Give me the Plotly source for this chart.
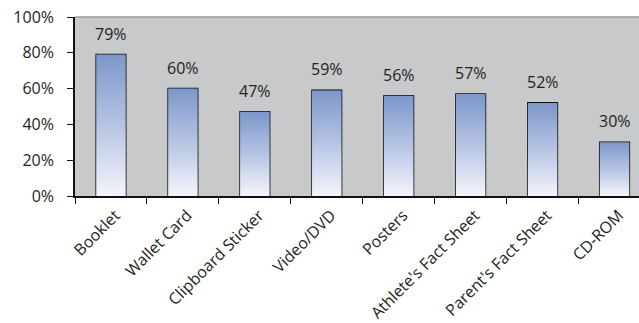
import plotly.graph_objects as go

# Survey results: share of respondents per resource
categories = ["Booklet", "Wallet Card", "Clipboard Sticker", "Video/DVD",
              "Posters", "Athlete's Fact Sheet", "Parent's Fact Sheet", "CD-ROM"]
values = [79, 60, 47, 59, 56, 57, 52, 30]
y_ticks = [0, 20, 40, 60, 80, 100]

FONT = "Open Sans"
TEXT = "#231f20"
BAR_W = 0.41
positions = list(range(len(categories)))
x_range = [-0.5, 7.34]
# rotated category labels sit slightly right of the bar centre
label_shift = 0.06

fig = go.Figure()

# gradient-filled bar bodies (white at the base, blue at the top)
for i, v in zip(positions, values):
    fig.add_trace(go.Scatter(
        x=[i - BAR_W / 2, i - BAR_W / 2, i + BAR_W / 2, i + BAR_W / 2, i - BAR_W / 2],
        y=[0, v, v, 0, 0],
        mode="lines", fill="toself",
        line=dict(color="rgba(0,0,0,0)", width=0),
        fillgradient=dict(type="vertical",
                          colorscale=[[0, "#f4f5fb"], [0.5, "#b6c4e3"], [1, "#7c97ca"]]),
        hoverinfo="skip", showlegend=False,
    ))

# bar outlines
fig.add_trace(go.Bar(
    x=positions, y=values, width=BAR_W,
    marker=dict(color="rgba(0,0,0,0)", line=dict(color="#111111", width=1.6)),
    showlegend=False,
))

# category labels on an overlaid axis so tick marks can sit on the boundaries
fig.add_trace(go.Scatter(x=positions, y=[None] * len(positions), xaxis="x2",
                         mode="markers", showlegend=False, hoverinfo="skip"))

# value labels floating above each bar
annotations = [
    dict(x=i, y=v, xref="x", yref="y", text=f"{v}%", showarrow=False,
         yanchor="bottom", yshift=8, font=dict(family=FONT, size=16, color=TEXT))
    for i, v in zip(positions, values)
]

fig.update_layout(
    width=639, height=323,
    margin=dict(l=75, r=0, t=17, b=127),
    paper_bgcolor="white",
    plot_bgcolor="#c8c9cb",
    font=dict(family=FONT, size=16, color=TEXT),
    xaxis=dict(
        range=x_range, tickvals=[p - 0.5 for p in positions] + [positions[-1] + 0.5],
        showticklabels=False, ticks="outside", ticklen=6, tickwidth=1.2,
        tickcolor="#111111", showgrid=False, zeroline=False,
        showline=True, linecolor="#111111", linewidth=1.6,
    ),
    xaxis2=dict(
        range=[x_range[0] - label_shift, x_range[1] - label_shift],
        overlaying="x", side="bottom", anchor="y",
        tickvals=positions, ticktext=categories, tickangle=-45,
        ticks="", showgrid=False, zeroline=False, showline=False,
        ticklabelstandoff=6,
        tickfont=dict(family=FONT, size=16, color=TEXT),
    ),
    yaxis=dict(
        range=[0, 100], tickvals=y_ticks, ticktext=[f"{t}%" for t in y_ticks],
        ticks="outside", ticklen=6, tickwidth=1.2, tickcolor="#111111",
        ticklabelstandoff=10,
        showgrid=False, zeroline=False,
        showline=True, linecolor="#111111", linewidth=1.6,
        tickfont=dict(family=FONT, size=16, color=TEXT),
    ),
    shapes=[dict(type="line", xref="paper", yref="paper", x0=0, x1=1, y0=1, y1=1,
                 line=dict(color="#9a9a9a", width=1.5))],
    annotations=annotations,
)

fig.write_html("out.html")
